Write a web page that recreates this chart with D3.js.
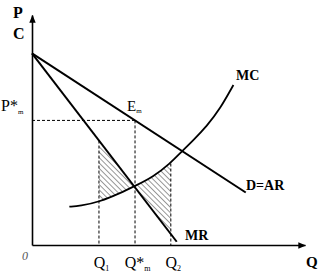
<!DOCTYPE html>
<html><head><meta charset="utf-8">
<script src="https://cdn.jsdelivr.net/npm/d3@7"></script>
<style>
html,body{margin:0;padding:0;background:#fff;}
svg{display:block;}
svg text{font-family:"Liberation Serif","Times New Roman",Times,"DejaVu Serif",serif;fill:#000;}
</style></head>
<body>
<script>
// ---- data (economic units) ----
const demandQ = [0, 8.3];            // D = AR line endpoints
const demandP = [10, 2.74];
const mrQ = [0, 5.62];               // MR line endpoints
const mrP = [10, 0.17];
const mcQ = [1.45, 1.86, 2.64, 3.42, 4.0, 4.70, 5.36, 5.79, 6.25, 6.79, 7.30, 7.82];   // MC curve
const mcP = [2.0, 2.03, 2.26, 2.70, 3.08, 3.55, 4.25, 4.85, 5.45, 6.21, 7.10, 8.35];
const qTicks = [2.6, 4.0, 5.39];     // Q1, Q*m, Q2
const qLabels = [["Q","1"],["Q*","m"],["Q","2"]];
const dropTops = [5.45, 6.5, 4.25];  // top of dashed drop lines at Q1, Q*m, Q2
const pTicks = [6.5];                // P*m
const pLabels = [["P*","m"]];

const W = 327, H = 275;
const FONT = '"Liberation Serif","Times New Roman",Times,serif';
const svg = d3.select("body").append("svg").attr("width", W).attr("height", H);
const x = d3.scaleLinear().domain([0, 10.6]).range([32, 305]);
const y = d3.scaleLinear().domain([0, 12]).range([245, 15]);

const defs = svg.append("defs");
defs.append("marker").attr("id","arr").attr("viewBox","0 0 10 10")
  .attr("refX",9).attr("refY",5).attr("markerWidth",8).attr("markerHeight",8)
  .attr("markerUnits","userSpaceOnUse").attr("orient","auto")
  .append("path").attr("d","M0,1L10,5L0,9Z").attr("fill","#000");
const pat = defs.append("pattern").attr("id","hatch").attr("patternUnits","userSpaceOnUse")
  .attr("width",3.8).attr("height",3.8).attr("patternTransform","rotate(-45)");
pat.append("line").attr("x1",0).attr("y1",0).attr("x2",0).attr("y2",3.8)
  .attr("stroke","#000").attr("stroke-width",0.8);
defs.append("clipPath").attr("id","band").append("rect")
  .attr("x", x(qTicks[0])).attr("y", 0)
  .attr("width", x(qTicks[2]) - x(qTicks[0])).attr("height", y(0));

// ---- hatched region between MR and MC, Q1..Q2 (even-odd of the two areas) ----
const mcPts = mcQ.map((q,i)=>[q, mcP[i]]);
const mrPts = mrQ.map((q,i)=>[q, mrP[i]]);
const dPts = demandQ.map((q,i)=>[q, demandP[i]]);
const areaC = d3.area().x(d=>x(d[0])).y0(y(0)).y1(d=>y(d[1])).curve(d3.curveBasis);
const areaL = d3.area().x(d=>x(d[0])).y0(y(0)).y1(d=>y(d[1]));
svg.append("path").attr("d", areaC(mcPts) + areaL(mrPts))
  .attr("fill","url(#hatch)").attr("fill-rule","evenodd").attr("clip-path","url(#band)");

// ---- dashed guide lines ----
const dash = svg.append("g").attr("stroke","#000").attr("stroke-width",1).attr("stroke-dasharray","3,2");
dash.append("line").attr("x1",x(0)).attr("x2",x(qTicks[1])).attr("y1",y(pTicks[0])).attr("y2",y(pTicks[0]));
qTicks.forEach((q,i)=>{
  dash.append("line").attr("x1",x(q)).attr("x2",x(q)).attr("y1",y(dropTops[i])).attr("y2",y(0));
});

// ---- axes ----
const xAxis = d3.axisBottom(x).tickValues(qTicks).tickSize(0).tickSizeOuter(0).tickPadding(8).tickFormat("");
const gx = svg.append("g").attr("transform",`translate(0,${y(0)})`).call(xAxis).attr("font-family",FONT);
gx.select(".domain").attr("stroke-width",1.6).attr("marker-end","url(#arr)");
gx.selectAll(".tick text").each(function(d,i){
  const t = d3.select(this).attr("font-size",16).attr("text-anchor","middle").attr("dy","0.95em")
    .attr("dx", 2).attr("font-family",FONT).attr("fill","#000");
  t.append("tspan").text(qLabels[i][0]);
  t.append("tspan").attr("font-size",8).attr("dy","0.35em").text(qLabels[i][1]);
});
const yAxis = d3.axisLeft(y).tickValues(pTicks).tickSize(0).tickSizeOuter(0).tickPadding(8).tickFormat("");
const gy = svg.append("g").attr("transform",`translate(${x(0)},0)`).call(yAxis).attr("font-family",FONT);
gy.select(".domain").attr("stroke-width",1.6).attr("marker-end","url(#arr)");
gy.selectAll(".tick text").each(function(d,i){
  const t = d3.select(this).attr("font-size",16).attr("text-anchor","start").attr("x",-31).attr("dy","-0.6em")
    .attr("font-family",FONT).attr("fill","#000");
  t.append("tspan").text(pLabels[i][0]);
  t.append("tspan").attr("font-size",7).attr("dx",0).attr("dy","0.45em").text(pLabels[i][1]);
});

// ---- curves ----
const line = d3.line().x(d=>x(d[0])).y(d=>y(d[1]));
svg.append("path").attr("d", line(dPts)).attr("fill","none").attr("stroke","#000").attr("stroke-width",2);
svg.append("path").attr("d", line(mrPts)).attr("fill","none").attr("stroke","#000").attr("stroke-width",2);
svg.append("path").attr("d", d3.line().x(d=>x(d[0])).y(d=>y(d[1])).curve(d3.curveBasis)(mcPts))
  .attr("fill","none").attr("stroke","#000").attr("stroke-width",1.8);

// ---- labels ----
const lab = (tx,ty,s,size,weight)=>svg.append("text").attr("x",tx).attr("y",ty)
  .attr("font-family",FONT).attr("font-size",size).attr("font-weight",weight||"normal").text(s);
lab(13,18,"P",16,"bold");
lab(13,39,"C",16,"bold");
lab(236,80,"MC",14,"bold");
lab(246,190,"D=AR",14,"bold");
lab(185,240,"MR",14,"bold");
lab(306,267,"Q",15,"bold");
lab(22,260,"0",12,"normal").attr("font-style","italic").style("fill","#555");
const em = lab(127,111,"E",15,"normal");
em.append("tspan").attr("font-size",7).attr("dy","0.3em").text("m");
</script>
</body></html>
